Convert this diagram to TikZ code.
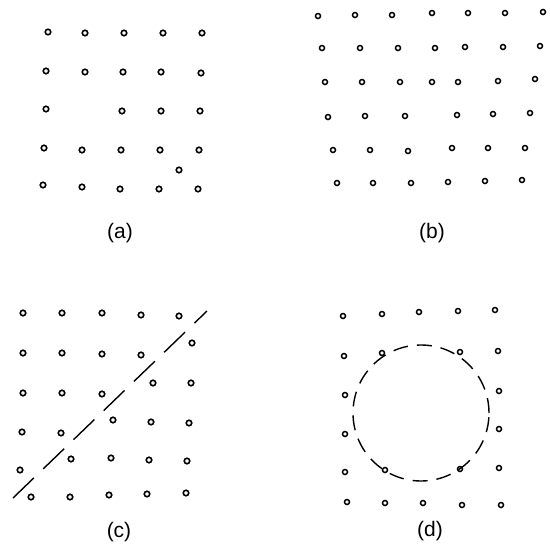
\documentclass[tikz,border=0pt]{standalone}
\usepackage{fontspec}
\setmainfont{Liberation Sans}
\usepackage{tikz}
\usetikzlibrary{positioning}

\begin{document}
\begin{tikzpicture}[x=1pt, y=-1pt,
    atom/.style={circle, draw, line width=1.6pt, inner sep=0pt, minimum size=5.5pt},
    small atom/.style={atom, line width=1.5pt, minimum size=5pt},
    caption/.style={font=\fontsize{21}{24}\selectfont},
    cut/.style={line width=1.4pt, dash pattern=on 29pt off 13pt}]
      \useasboundingbox (0,0) rectangle (550,544);

      % (a) vacancy and interstitial
      \foreach \p [count=\i] in {(48,32),(85,33),(124,33),(163,33),(202,33),
          (46,71),(85,72),(123,72),(161,72),(201,73),
          (46,109),(122,111),(161,111),(200,111),
          (44,148),(82,150),(121,150),(160,150),(199,150),
          (43,185),(82,187),(120,189),(159,189),(198,189),
          (179,170)}
        \node[atom] (a\i) at \p {};
      \node[caption] (capa) at (120,233) {(a)};

      % (b) edge dislocation
      \foreach \p [count=\i] in {(318,16),(355,15),(392,15),(432,13),(468,13),(505,13),(543,12),
          (322,48),(360,48),(398,48),(435,48),(465,47),(503,47),(540,46),
          (325,82),(362,82),(400,82),(432,82),(458,82),(498,81),(535,79),
          (328,117),(365,116),(405,116),(457,115),(493,114),(530,113),
          (333,150),(370,150),(408,151),(452,148),(488,148),(525,148),
          (337,183),(373,183),(411,183),(448,182),(485,181),(522,180)}
        \node[small atom] (b\i) at \p {};
      \node[caption] (capb) at (432,233) {(b)};

      % (c) grain boundary
      \foreach \p [count=\i] in {(23,313),(62,313),(102,313),(141,315),(179,316),
          (23,353),(62,353),(102,354),(141,355),(192,343),
          (23,393),(62,393),(102,394),(153,383),(191,383),
          (22,432),(61,433),(113,420),(151,422),(189,423),
          (20,470),(71,459),(111,458),(149,460),(187,461),
          (31,497),(70,497),(109,495),(147,494),(186,493)}
        \node[atom] (c\i) at \p {};
      \coordinate (cutlow) at (13,498);
      \coordinate (cuthigh) at (207,311);
      \draw[cut] (cutlow) -- (cuthigh);
      \node[caption] (capc) at (119,532) {(c)};

      % (d) void
      \foreach \p [count=\i] in {(343,316),(382,314),(419,312),(458,311),(495,310),
          (344,356),(382,353),(460,352),(498,351),
          (345,395),(499,391),
          (345,434),(499,429),
          (345,472),(385,470),(460,469),(499,468),
          (347,502),(385,503),(423,503),(462,505),(501,505)}
        \node[small atom] (d\i) at \p {};
      \node[circle, draw, line width=1.4pt, dash pattern=on 15pt off 9pt,
        minimum size=136pt, inner sep=0pt] (void) at (421,413) {};
      \node[caption] (capd) at (430,531) {(d)};

    \end{tikzpicture}
\end{document}
